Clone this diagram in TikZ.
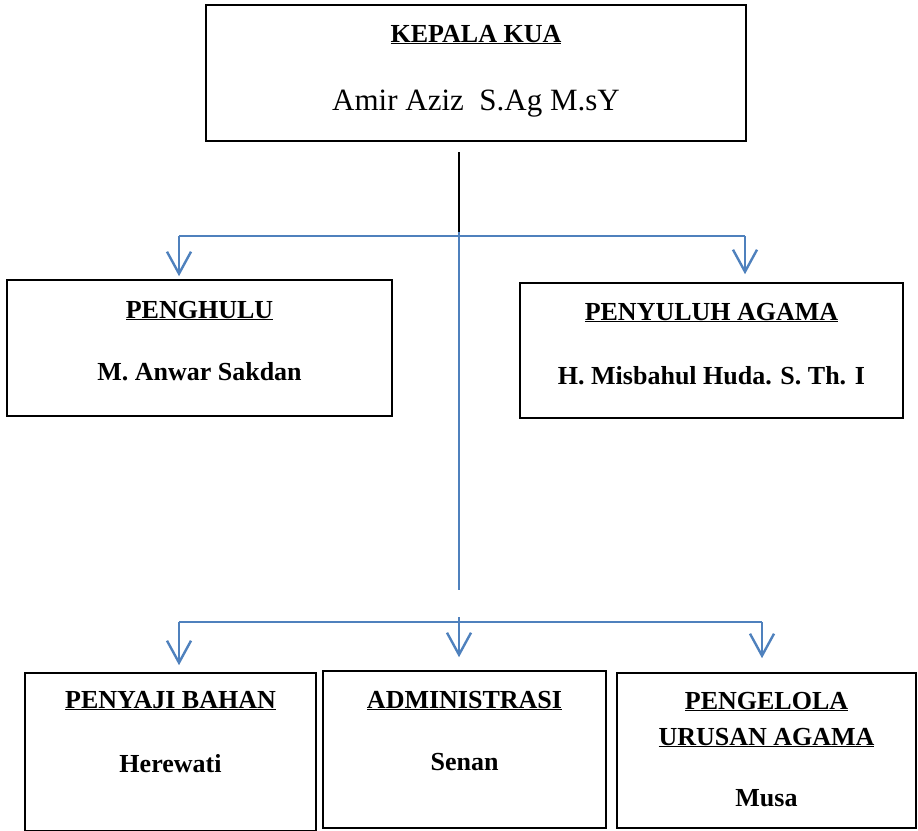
\documentclass[tikz,border=0pt]{standalone}
\usepackage{fontspec}
\setmainfont{Liberation Serif}
\usetikzlibrary{arrows.meta,positioning}
\definecolor{orgblue}{RGB}{79,129,189}

\begin{document}
\begin{tikzpicture}[x=1pt, y=-1pt,
  box/.style={draw, line width=1.6pt, inner sep=0pt},
  txt/.style={font=\fontsize{26}{36}\selectfont\bfseries, anchor=base, align=center},
  link/.style={orgblue, line width=2.2pt},
  arr/.style={link, -{Straight Barb[length=22pt, width=24pt, line width=2.4pt]}}]
\useasboundingbox (0,0) rectangle (918,830);
% Kepala
\node[box, minimum width=540pt, minimum height=136pt] (kepala) at (476,73) {};
\node[txt] (kepala-t) at (476,42) {\underline{KEPALA KUA}};
\node[anchor=base, font=\fontsize{31}{36}\selectfont] (kepala-n) at (476,110) {Amir Aziz\ \ S.Ag M.sY};
% second row
\node[box, minimum width=385pt, minimum height=136pt] (penghulu) at (199.5,348) {};
\node[txt] (penghulu-t) at (199.5,318) {\underline{PENGHULU}};
\node[txt] (penghulu-n) at (199.5,380) {M. Anwar Sakdan};
\node[box, minimum width=383pt, minimum height=135pt] (penyuluh) at (711.5,350.5) {};
\node[txt] (penyuluh-t) at (711.5,320) {\underline{PENYULUH AGAMA}};
\node[txt] (penyuluh-n) at (711.5,384) {H. Misbahul Huda. S. Th. I};
% third row
\node[box, minimum width=291pt, minimum height=158pt] (penyaji) at (170.5,752) {};
\node[txt] (penyaji-t) at (170.5,708) {\underline{PENYAJI BAHAN}};
\node[txt] (penyaji-n) at (170.5,772) {Herewati};
\node[box, minimum width=283pt, minimum height=157pt] (admin) at (464.5,749.5) {};
\node[txt] (admin-t) at (464.5,708) {\underline{ADMINISTRASI}};
\node[txt] (admin-n) at (464.5,770) {Senan};
\node[box, minimum width=299pt, minimum height=155pt] (pengelola) at (766.5,750.5) {};
\node[txt] (pengelola-t) at (766.5,745) {\underline{PENGELOLA}\\\underline{URUSAN AGAMA}};
\node[txt] (pengelola-n) at (766.5,806) {Musa};
% connectors
\coordinate (k-out) at (459,152);
\coordinate (k-mid) at (459,232);
\coordinate (split1) at (459,236);
\coordinate (l1) at (179,236);
\coordinate (r1) at (745,236);
\coordinate (stem-end) at (459,590);
\coordinate (stem2) at (459,617);
\coordinate (l2) at (179,622);
\coordinate (r2) at (762,622);
\draw[line width=1.5pt] (k-out) -- (k-mid);
\draw[link] (k-mid) -- (stem-end);
\draw[link] (l1) -- (r1);
\draw[arr] (l1) -- ([yshift=3pt]penghulu.north -| l1);
\draw[arr] (r1) -- ([yshift=8pt]penyuluh.north -| r1);
\draw[link] (l2) -- (r2);
\draw[arr] (l2) -- ([yshift=7pt]penyaji.north -| l2);
\draw[arr] (stem2) -- ([yshift=13pt]admin.north -| stem2);
\draw[arr] (r2) -- ([yshift=14pt]pengelola.north -| r2);
\end{tikzpicture}
\end{document}
